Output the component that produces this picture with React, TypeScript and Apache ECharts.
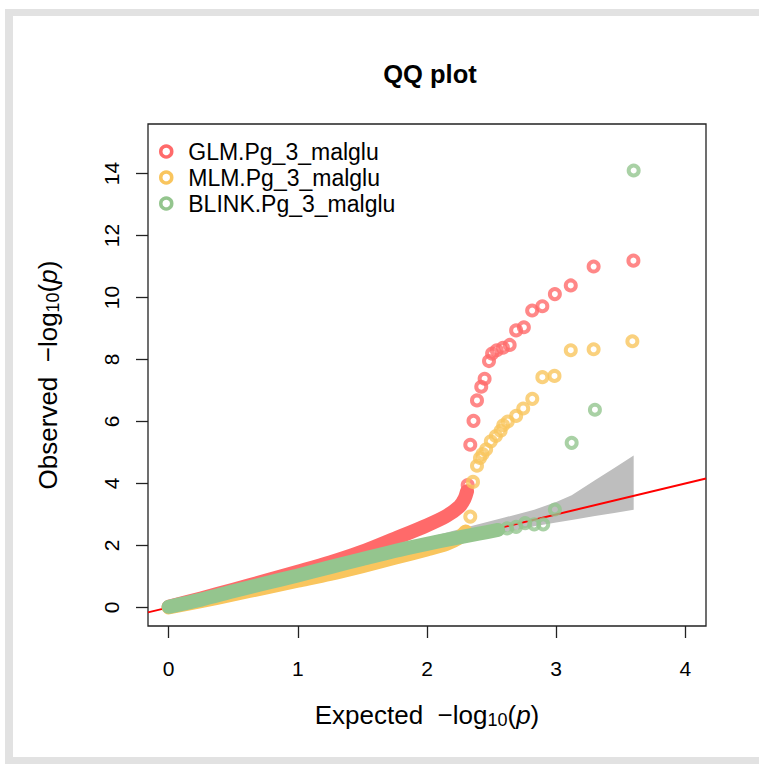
import React, { useEffect, useRef } from "react";
import * as echarts from "echarts";

// ---- data ----
const seriesNames = ["GLM.Pg_3_malglu", "MLM.Pg_3_malglu", "BLINK.Pg_3_malglu"];
const seriesColors = ["#FF6A6A", "#F9C55E", "#94C58E"];

const xTicks = [0, 1, 2, 3, 4];
const yTicks = [0, 2, 4, 6, 8, 10, 12, 14];

// dense part of each QQ curve (expected, observed)
const glmDense: number[][] = [
  [0, 0.02], [0.25, 0.29], [0.5, 0.57], [0.75, 0.86], [1.0, 1.15], [1.25, 1.45],
  [1.5, 1.8], [1.75, 2.22], [2.0, 2.65], [2.15, 2.95], [2.25, 3.25], [2.29, 3.5], [2.31, 3.75],
];
const glmTail: number[][] = [
  [2.315, 3.95], [2.335, 5.25], [2.36, 6.02], [2.387, 6.68], [2.42, 7.12], [2.446, 7.38],
  [2.48, 7.95], [2.504, 8.19], [2.54, 8.3], [2.588, 8.38], [2.64, 8.47], [2.69, 8.94],
  [2.75, 9.04], [2.814, 9.58], [2.893, 9.72], [2.99, 10.11], [3.113, 10.39], [3.29, 11.0],
  [3.598, 11.19],
];

const mlmDense: number[][] = [
  [0, 0.0], [0.25, 0.2], [0.5, 0.42], [0.75, 0.64], [1.0, 0.86], [1.25, 1.08],
  [1.5, 1.33], [1.75, 1.6], [2.0, 1.87], [2.15, 2.05], [2.25, 2.25], [2.3, 2.45],
];
const mlmTail: number[][] = [
  [2.335, 2.93], [2.356, 4.05], [2.387, 4.57], [2.41, 4.82], [2.43, 4.95], [2.458, 5.1],
  [2.494, 5.36], [2.533, 5.53], [2.57, 5.7], [2.59, 5.88], [2.625, 6.0], [2.69, 6.18],
  [2.745, 6.42], [2.815, 6.73], [2.893, 7.43], [2.987, 7.47], [3.113, 8.3], [3.29, 8.33],
  [3.59, 8.59],
];

const blinkDense: number[][] = [
  [0, 0.02], [0.25, 0.25], [0.5, 0.52], [0.75, 0.78], [1.0, 1.03], [1.25, 1.3],
  [1.5, 1.56], [1.75, 1.82], [2.0, 2.05], [2.2, 2.22], [2.4, 2.38], [2.55, 2.5],
];
const blinkTail: number[][] = [
  [2.62, 2.55], [2.69, 2.6], [2.76, 2.72], [2.83, 2.68], [2.9, 2.68], [2.99, 3.16],
  [3.12, 5.31], [3.3, 6.38], [3.6, 14.1],
];

// 95% confidence band
const ciX = [2.0, 2.3, 2.6, 2.83, 3.0, 3.12, 3.3, 3.45, 3.6];
const ciUpper = [2.25, 2.58, 2.9, 3.15, 3.4, 3.62, 4.1, 4.5, 4.9];
const ciLower = [1.85, 2.12, 2.42, 2.62, 2.74, 2.82, 2.95, 3.05, 3.15];

// y = x reference line across the plotting range
const xRange = [-0.16, 4.16];
const yRange = [-0.6, 15.6];

const FONT = "'Liberation Sans', Arial, Helvetica, sans-serif";

export default function App() {
  const ref = useRef<HTMLDivElement>(null);

  useEffect(() => {
    if (!ref.current) return;
    const chart = echarts.init(ref.current, undefined, { renderer: "svg" });

    const dense = [glmDense, mlmDense, blinkDense];
    const tails = [glmTail, mlmTail, blinkTail];

    const pointSeries: any[] = [];
    for (let i = 0; i < 3; i++) {
      pointSeries.push({
        name: seriesNames[i],
        type: "line",
        data: dense[i],
        showSymbol: false,
        symbol: "none",
        smooth: 0.3,
        lineStyle: { color: seriesColors[i], width: 14, cap: "round", join: "round" },
        itemStyle: { color: seriesColors[i] },
        z: 3 + i,
      });
      pointSeries.push({
        name: seriesNames[i],
        type: "scatter",
        data: tails[i],
        symbol: "circle",
        symbolSize: 10,
        itemStyle: { color: "rgba(0,0,0,0)", borderColor: seriesColors[i], borderWidth: 4 },
        z: 3 + i,
      });
    }

    const richName = {
      a: { fontSize: 26, fontFamily: FONT, color: "#000" },
      sub: { fontSize: 18, fontFamily: FONT, color: "#000", verticalAlign: "bottom", padding: [11, 0, 0, 0] },
      it: { fontSize: 26, fontFamily: FONT, color: "#000", fontStyle: "italic" },
    };

    chart.setOption({
      animation: false,
      backgroundColor: "#fff",
      title: {
        text: "QQ plot",
        left: 425,
        top: 56,
        textAlign: "center",
        textStyle: { fontSize: 25.5, fontWeight: "bold", fontFamily: FONT, color: "#000" },
      },
      legend: {
        orient: "vertical",
        left: 154,
        top: 135,
        itemWidth: 34,
        itemHeight: 11,
        itemGap: 3,
        symbolKeepAspect: true,
        textStyle: { fontSize: 23, fontFamily: FONT, color: "#000", lineHeight: 23 },
        data: seriesNames.map((n, i) => ({
          name: n,
          icon: "circle",
          itemStyle: { color: "rgba(0,0,0,0)", borderColor: seriesColors[i], borderWidth: 3.5 },
        })),
      },
      grid: {
        left: 148,
        right: 53,
        top: 124,
        bottom: 138,
        show: true,
        borderColor: "#222",
        borderWidth: 1.3,
        backgroundColor: "transparent",
        containLabel: false,
        outerBoundsMode: "none",
      },
      xAxis: {
        type: "value",
        min: xRange[0],
        max: xRange[1],
        splitLine: { show: false },
        axisLine: { show: false, onZero: false },
        axisTick: { show: true, inside: false, length: 12, customValues: xTicks, lineStyle: { color: "#222", width: 1.3 } },
        axisLabel: { customValues: xTicks, fontSize: 21, fontFamily: FONT, color: "#000", margin: 32 },
        name: "{a|Expected  −log}{sub|10}{a|(}{it|p}{a|)}",
        nameLocation: "middle",
        nameGap: 74,
        nameTextStyle: { rich: richName },
      },
      yAxis: {
        type: "value",
        min: yRange[0],
        max: yRange[1],
        splitLine: { show: false },
        axisLine: { show: false, onZero: false },
        axisTick: { show: true, inside: false, length: 12, customValues: yTicks, lineStyle: { color: "#222", width: 1.3 } },
        axisLabel: { customValues: yTicks, fontSize: 21, fontFamily: FONT, color: "#000", margin: 26, rotate: 90 },
        name: "{a|Observed  −log}{sub|10}{a|(}{it|p}{a|)}",
        nameLocation: "middle",
        nameGap: 86,
        nameTextStyle: { rich: richName },
      },
      graphic: [
        { type: "rect", shape: { x: 5, y: 9, width: 8, height: 760 }, style: { fill: "#e2e2e2" }, silent: true },
        { type: "rect", shape: { x: 5, y: 9, width: 760, height: 7 }, style: { fill: "#e2e2e2" }, silent: true },
        { type: "rect", shape: { x: 5, y: 757, width: 760, height: 8 }, style: { fill: "#e2e2e2" }, silent: true },
      ],
      series: [
        {
          name: "ci",
          type: "custom",
          coordinateSystem: "cartesian2d",
          data: [[ciX[0], ciLower[0]]],
          silent: true,
          z: 1,
          renderItem: (_p: any, api: any) => {
            const pts: number[][] = [];
            for (let k = 0; k < ciX.length; k++) pts.push(api.coord([ciX[k], ciUpper[k]]));
            for (let k = ciX.length - 1; k >= 0; k--) pts.push(api.coord([ciX[k], ciLower[k]]));
            return { type: "polygon", shape: { points: pts }, style: { fill: "#bebebe" } };
          },
        },
        {
          name: "ref",
          type: "line",
          data: [[xRange[0], xRange[0]], [xRange[1], xRange[1]]],
          showSymbol: false,
          symbol: "none",
          lineStyle: { color: "#FF0000", width: 2 },
          silent: true,
          z: 2,
        },
        ...pointSeries,
      ],
    });

    return () => chart.dispose();
  }, []);

  return (
    <div
      ref={ref}
      style={{ position: "fixed", left: 0, top: 0, width: 759, height: 764, background: "#fff" }}
    />
  );
}
